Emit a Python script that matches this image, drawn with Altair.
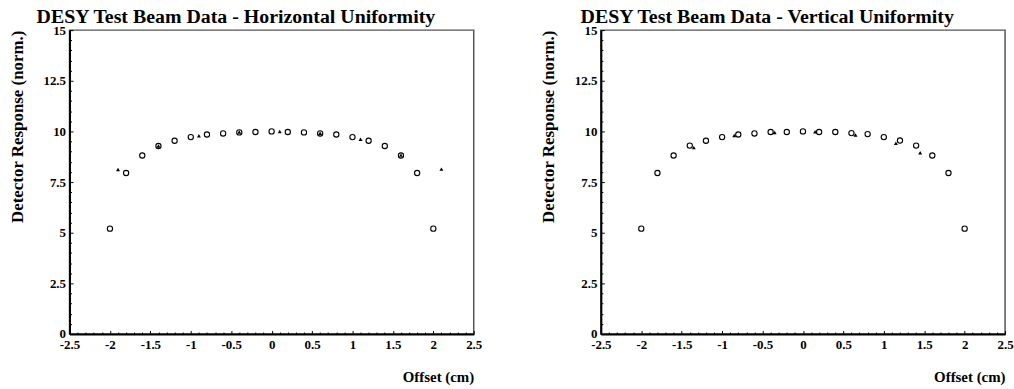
import altair as alt
import pandas as pd

# ---- data ----
circ_x = [-2.0, -1.8, -1.6, -1.4, -1.2, -1.0, -0.8, -0.6, -0.4, -0.2, 0.0,
          0.2, 0.4, 0.6, 0.8, 1.0, 1.2, 1.4, 1.6, 1.8, 2.0]
h_circ_y = [5.2, 7.95, 8.81, 9.28, 9.54, 9.72, 9.85, 9.9, 9.95, 9.97, 10.0,
            9.97, 9.95, 9.9, 9.85, 9.72, 9.54, 9.28, 8.81, 7.95, 5.2]
h_tri_x = [-1.9, -1.4, -0.9, -0.4, 0.1, 0.6, 1.1, 1.6, 2.1]
h_tri_y = [8.12, 9.28, 9.79, 9.97, 10.0, 9.91, 9.61, 8.83, 8.14]

v_circ_y = [5.2, 7.95, 8.81, 9.3, 9.54, 9.72, 9.85, 9.9, 9.97, 9.97, 10.0,
            9.97, 9.97, 9.92, 9.87, 9.72, 9.55, 9.3, 8.81, 7.95, 5.2]
v_tri_x = [-1.35, -0.85, -0.35, 0.15, 0.65, 1.15, 1.45]
v_tri_y = [9.2, 9.8, 9.95, 9.98, 9.82, 9.42, 8.95]

titles = ["DESY Test Beam Data - Horizontal Uniformity",
          "DESY Test Beam Data - Vertical Uniformity"]
x_major = [-2.5, -2, -1.5, -1, -0.5, 0, 0.5, 1, 1.5, 2, 2.5]
y_major = [0, 2.5, 5, 7.5, 10, 12.5, 15]
x_minor = [round(-2.5 + 0.1 * i, 1) for i in range(51)]
x_minor = [v for v in x_minor if round(v * 2) != v * 2]
y_minor = [0.5 * i for i in range(31)]
y_minor = [v for v in y_minor if v not in y_major]

W, H = 407, 306
FONT = "Liberation Serif"
LBL = "'' + datum.value"

xs = alt.Scale(domain=[-2.5, 2.5], nice=False, zero=False)
ys = alt.Scale(domain=[0, 15], nice=False, zero=False)


def panel(cy, tx, ty, title):
    cdf = pd.DataFrame({"x": circ_x, "y": cy})
    tdf = pd.DataFrame({"x": tx, "y": ty})
    circles = alt.Chart(cdf).mark_point(
        shape="circle", filled=False, stroke="black", strokeWidth=1.1, size=28, opacity=1
    ).encode(
        x=alt.X("x:Q", scale=xs, axis=alt.Axis(
            orient="bottom", values=x_major, ticks=False, grid=False, labelExpr=LBL,
            labelFont=FONT, labelFontWeight="bold", labelFontSize=13, labelColor="black",
            labelPadding=5, labelFlush=False, labelOverlap=False,
            domainColor="black", domainWidth=2,
            title="Offset (cm)", titleFont=FONT, titleFontWeight="bold", titleFontSize=15,
            titleColor="black", titleAnchor="end", titlePadding=18)),
        y=alt.Y("y:Q", scale=ys, axis=alt.Axis(
            orient="left", values=y_major, ticks=False, grid=False, labelExpr=LBL,
            labelFont=FONT, labelFontWeight="bold", labelFontSize=13, labelColor="black",
            labelPadding=4, labelFlush=False, labelOverlap=False,
            domainColor="black", domainWidth=2,
            title="Detector Response (norm.)", titleFont=FONT, titleFontWeight="bold",
            titleFontSize=17, titleColor="black", titleAnchor="end", titlePadding=17)),
    )
    tris = alt.Chart(tdf).mark_point(
        shape="triangle-up", filled=True, color="black", size=16, opacity=1
    ).encode(
        x=alt.X("x:Q", scale=xs, axis=alt.Axis(
            orient="top", offset=-H, values=x_major, labels=False, domain=False,
            grid=False, tickSize=3.5, tickColor="black", tickWidth=1, title=None)),
        y=alt.Y("y:Q", scale=ys, axis=alt.Axis(
            orient="right", offset=-W, values=y_major, labels=False, domain=False,
            grid=False, tickSize=3.5, tickColor="black", tickWidth=1, title=None)),
    )
    minor = alt.Chart(cdf).mark_point(opacity=0).encode(
        x=alt.X("x:Q", scale=xs, axis=alt.Axis(
            orient="top", offset=-H, values=x_minor, labels=False, domain=False,
            grid=False, tickSize=2, tickColor="black", tickWidth=1, title=None)),
        y=alt.Y("y:Q", scale=ys, axis=alt.Axis(
            orient="right", offset=-W, values=y_minor, labels=False, domain=False,
            grid=False, tickSize=2, tickColor="black", tickWidth=1, title=None)),
    )
    return alt.layer(minor, circles, tris).resolve_axis(
        x="independent", y="independent"
    ).properties(
        width=W, height=H,
        title=alt.TitleParams(title, font=FONT, fontWeight="bold", fontSize=20,
                              color="black", anchor="middle", dx=-36, offset=-3),
    )


chart = alt.hconcat(
    panel(h_circ_y, h_tri_x, h_tri_y, titles[0]),
    panel(v_circ_y, v_tri_x, v_tri_y, titles[1]),
    spacing=56,
).properties(
    padding={"left": 7, "top": 5, "right": 0, "bottom": 0},
    background="white",
).configure_view(stroke="#555", strokeWidth=1.5)

chart.save("out.html", embed_options={"renderer": "svg", "actions": False})
